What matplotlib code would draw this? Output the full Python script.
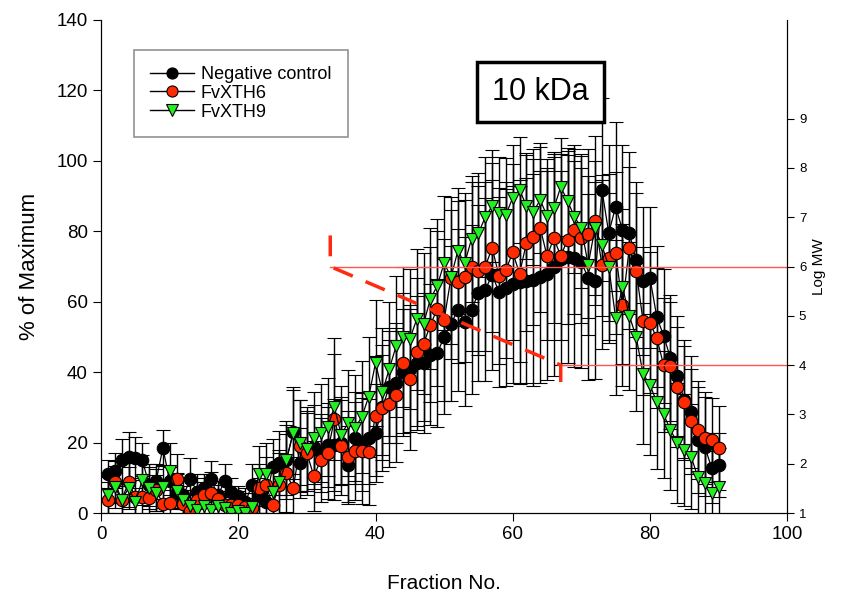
import matplotlib.pyplot as plt
import numpy as np
from matplotlib.lines import Line2D

plt.rcParams['font.family'] = ['Liberation Sans', 'DejaVu Sans']

fraction = np.arange(1, 91)

# % of maximum
neg_control = [11, 12, 15, 16, 15.5, 15, 8, 9, 18.5, 9,
               6, 5, 9.7, 6, 7, 9.7, 5, 9, 6, 4.8,
               3, 8, 5, 3.1, 13, 14.2, 15, 23, 14.2, 17.3,
               18.8, 17, 19.3, 19.3, 20, 13.6, 21.3, 20.2, 21.3, 22.7,
               30, 35.8, 37, 40, 41, 42.6, 42.6, 45, 45.4, 50,
               53.7, 57.7, 54.3, 57.7, 62.5, 63.4, 67.6, 62.8, 64, 65,
               65.6, 66, 66.2, 67, 67.9, 70, 72, 72.7, 72.4, 71.3,
               66.8, 66, 91.8, 79.5, 87, 80.4, 79.5, 71.9, 66, 66.8,
               55.7, 50.3, 44, 39, 32, 28.7, 20.7, 18.8, 12.8, 13.6]
neg_err = [4, 5, 6, 7, 6, 5, 6, 5, 5, 4,
           5, 4, 6, 5, 4, 5, 4, 5, 4, 3,
           4, 6, 5, 5, 8, 9, 10, 12, 10, 11,
           12, 11, 12, 13, 12, 11, 13, 14, 13, 14,
           15, 16, 17, 18, 18, 19, 20, 20, 21, 22,
           22, 23, 24, 24, 25, 26, 27, 27, 28, 28,
           29, 29, 30, 30, 30, 31, 30, 30, 31, 30,
           29, 28, 26, 25, 24, 24, 23, 22, 21, 20,
           20, 19, 18, 17, 17, 16, 15, 14, 10, 9]

xth6 = [3.7, 8.8, 3.7, 8.8, 4.5, 4.5, 4.3, 6.5, 2.6, 2.8,
        9.7, 2.6, 0.5, 3.7, 5, 5.7, 4, 2.3, 2.3, 2.3,
        1.7, 1.4, 7, 8, 2.3, 8, 11.4, 7, 19, 17,
        10.5, 15, 17, 26.7, 19, 16, 17.6, 17.6, 17.3, 27.6,
        29.8, 31, 33.5, 42.6, 38, 45.7, 48, 53.4, 58, 54.8,
        66.8, 65.6, 67, 70, 68.8, 70, 75.3, 67.3, 69, 74,
        68, 76.7, 78.4, 81, 73, 78, 73, 77.6, 80.4, 78,
        79.3, 83, 70.5, 72.4, 73.9, 59, 75.3, 68.8, 54.5, 54,
        49.7, 42, 41.8, 35.8, 31.5, 26, 23.6, 21.3, 20.7, 18.5]
xth6_err = [5, 6, 4, 7, 5, 6, 5, 6, 4, 5,
            7, 4, 3, 5, 5, 6, 4, 4, 4, 4,
            4, 3, 7, 8, 6, 9, 11, 9, 13, 12,
            10, 12, 13, 23, 14, 13, 14, 15, 15, 17,
            18, 18, 19, 20, 20, 21, 22, 22, 22, 23,
            23, 23, 24, 24, 24, 24, 24, 25, 25, 25,
            25, 25, 25, 24, 24, 24, 24, 24, 24, 24,
            24, 24, 24, 24, 23, 23, 23, 22, 21, 20,
            20, 19, 18, 17, 16, 15, 14, 13, 12, 12]

xth9 = [5.1, 7.4, 3.7, 7.1, 3.1, 9.4, 7.1, 5.7, 7.4, 11.9,
        6.3, 3.7, 2, 0.9, 2, 0.9, 2, 1.5, 0, 0.5,
        0, 1.7, 11, 11, 6, 8.8, 15, 22.7, 20, 18.2,
        21.3, 22.7, 24.4, 30.1, 22.2, 25.6, 24.1, 27.3, 33, 42.6,
        34.4, 40.9, 47.4, 50, 49.4, 55, 53.7, 60.8, 64.5, 71,
        67, 74.4, 71, 77.8, 79.5, 84, 87.2, 85.2, 84.7, 89.5,
        91.8, 87.2, 85.5, 88.9, 84.4, 86.6, 92.6, 88.6, 84.1, 81,
        70.5, 81, 76, 70, 55.4, 64.2, 56, 50, 39.5, 36.4,
        31.5, 28, 23.6, 19.9, 17.9, 16, 10.2, 8.5, 5.7, 7.4]
xth9_err = [5, 6, 5, 6, 4, 7, 6, 5, 6, 8,
            5, 4, 3, 3, 3, 3, 3, 3, 3, 3,
            3, 4, 8, 9, 7, 9, 11, 13, 12, 12,
            13, 14, 14, 15, 14, 15, 15, 16, 17, 18,
            18, 19, 20, 20, 20, 20, 20, 20, 19, 19,
            19, 18, 18, 18, 17, 17, 16, 16, 16, 15,
            15, 15, 15, 15, 16, 16, 14, 15, 16, 17,
            20, 19, 20, 21, 22, 22, 21, 21, 20, 20,
            19, 18, 17, 17, 16, 15, 14, 13, 12, 11]

# molecular weight calibration (Log MW, right axis)
cal_x = [33.4, 33.4, 67, 67]
cal_logmw = [6.63, 6.0, 4.0, 3.4]
std_x = [33.4, 67]
std_logmw = [6.0, 4.0]

fig = plt.figure(figsize=(8.5, 5.97), dpi=100)
ax = fig.add_axes([0.119, 0.1407, 0.807, 0.8258])

series = [
    (neg_control, neg_err, 'o', 'black', 'Negative control'),
    (xth6, xth6_err, 'o', '#ff2a00', 'FvXTH6'),
    (xth9, xth9_err, 'v', '#22ee22', 'FvXTH9'),
]
handles = []
for vals, err, mk, fc, name in series:
    ax.errorbar(fraction, vals, yerr=err, fmt='-' + mk, color='black', lw=0.9,
                ecolor='black', elinewidth=1, capsize=5, capthick=1,
                marker=mk, markersize=9, markerfacecolor=fc,
                markeredgecolor='black', markeredgewidth=0.8)
    handles.append(Line2D([], [], color='black', lw=1, marker=mk, markersize=8,
                          markerfacecolor=fc, markeredgecolor='black',
                          markeredgewidth=0.8, label=name))

ax.set_xlim(0, 100)
ax.set_ylim(0, 140)
ax.set_xticks(range(0, 101, 20))
ax.set_yticks(range(0, 141, 20))
ax.tick_params(direction='out', length=6, labelsize=13.5)
ax.spines['top'].set_visible(False)
ax.set_xlabel('Fraction No.', fontsize=15, labelpad=22)
ax.set_ylabel('% of Maximum', fontsize=16, labelpad=12)

leg = ax.legend(handles=handles, loc='upper left', bbox_to_anchor=(0.035, 0.958),
                fontsize=13, frameon=True, fancybox=False, edgecolor='#777777',
                handlelength=2.4, handletextpad=0.4, labelspacing=0.1,
                borderpad=0.9)
leg.get_frame().set_linewidth(1.2)

ax.text(64.1, 119.5, '10 kDa', fontsize=22, ha='center', va='center',
        bbox=dict(boxstyle='square,pad=0.5', fc='white', ec='black', lw=2.5))

ax2 = ax.twinx()
ax2.set_ylim(1, 11)
ax2.set_yticks(range(1, 10))
ax2.tick_params(direction='out', length=5, labelsize=9.5)
ax2.spines['top'].set_visible(False)
ax2.set_ylabel('Log MW', fontsize=11, labelpad=4)
ax2.set_xlim(0, 100)

for sx, sy in zip(std_x, std_logmw):
    ax2.plot([sx, 100], [sy, sy], color='#ff5555', lw=1)
ax2.plot(cal_x, cal_logmw, color='#ff2a10', lw=2.5, dashes=(6, 4))

fig.savefig('out.png', dpi=100)
